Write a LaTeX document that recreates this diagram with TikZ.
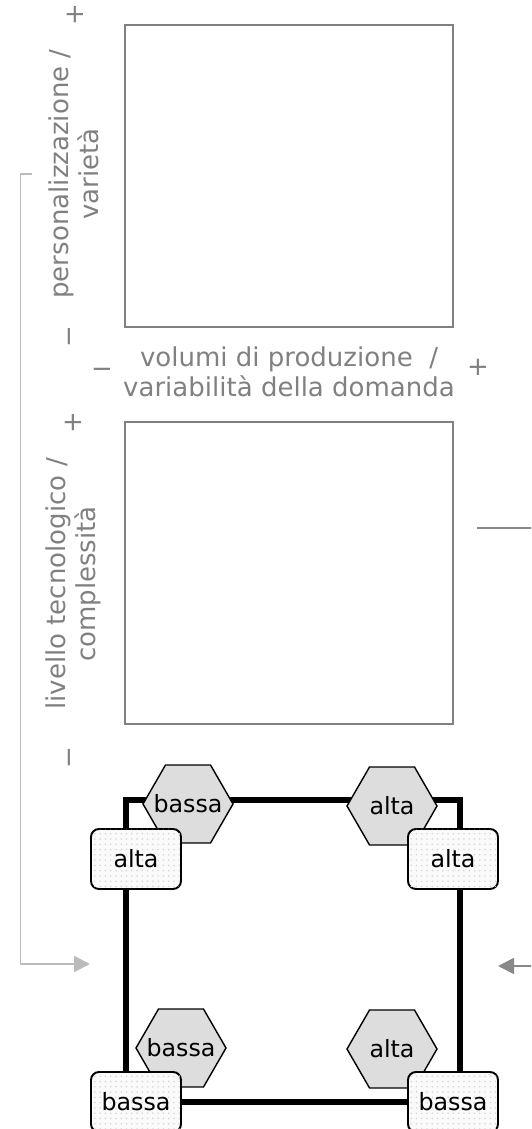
\documentclass[tikz,border=0pt]{standalone}
\usepackage{fontspec}
\setmainfont{DejaVu Sans}
\usetikzlibrary{shapes.geometric, arrows.meta, patterns}
\definecolor{axis_gray}{RGB}{128, 128, 128}
\definecolor{link_gray}{RGB}{187, 187, 187}
\definecolor{arrow_gray}{RGB}{136, 136, 136}
\definecolor{hex_gray}{RGB}{221, 221, 221}
\def \MENO {−}
\def \PIU {+}

\begin{document}
\begin{tikzpicture}[
    panel/.style={
        rectangle,
        draw=axis_gray,
        line width=1pt,
        minimum width=6.56cm,
        minimum height=6.04cm
    },
    axislabel/.style={
        text=axis_gray,
        align=center,
        inner sep=0pt,
        font=\fontsize{14.8}{17}\selectfont
    },
    level/.style={
        regular polygon,
        regular polygon sides=6,
        draw,
        line width=0.8pt,
        fill=hex_gray,
        minimum size=1.8cm,
        inner sep=0pt,
        label={[font=\fontsize{13.5}{15}\selectfont]center:#1}
    },
    grade/.style={
        rectangle,
        rounded corners=0.16cm,
        draw,
        line width=1.1pt,
        fill=black!2,
        postaction={pattern=dots, pattern color=black!16},
        minimum width=1.8cm,
        minimum height=1.2cm,
        font=\fontsize{13.5}{15}\selectfont
    },
    arrow/.style={
        -{Triangle[length=0.32cm, width=0.32cm]},
        line width=1.1pt, #1,
    }
]

\useasboundingbox (0,0) rectangle (10.62,22.58);
\clip (0,0) rectangle (10.62,22.58);

% Upper panels
\node[panel] (variety) at (5.78,19.06) {};
\node[panel] (techno) at (5.78,11.12) {};

% Axis labels
\node[axislabel, rotate=90] (varietylabel) at (1.48,19.10) {personalizzazione /\\varietà};
\node[axislabel] (volumelabel) at (5.78,15.14) {volumi di produzione\ \ /\\variabilità della domanda};
\node[axislabel, rotate=90] (technolabel) at (1.46,10.90) {livello tecnologico /\\complessità};

% Axis signs
\node[axislabel, rotate=90] (varietyplus) at (1.50,22.28) {\PIU};
\node[axislabel, rotate=90] (varietyminus) at (1.46,15.84) {\MENO};
\node[axislabel] (volumeminus) at (2.04,15.12) {\MENO};
\node[axislabel] (volumeplus) at (9.56,15.24) {\PIU};
\node[axislabel, rotate=90] (technoplus) at (1.46,14.12) {\PIU};
\node[axislabel, rotate=90] (technominus) at (1.46,7.42) {\MENO};

% Bottom frame
\node[draw, line width=3.7pt, minimum width=6.68cm, minimum height=6.04cm] (frame) at (5.86,3.56) {};

% Hexagon nodes
\node[level=bassa] (toplefthex) at (3.76,6.50) {};
\node[level=alta] (toprighthex) at (7.84,6.46) {};
\node[level=bassa] (bottomlefthex) at (3.62,1.62) {};
\node[level=alta] (bottomrighthex) at (7.84,1.60) {};

% Corner nodes
\node[grade] (topleft) at (2.72,5.40) {alta};
\node[grade] (topright) at (9.06,5.40) {alta};
\node[grade] (bottomleft) at (2.72,0.54) {bassa};
\node[grade] (bottomright) at (9.06,0.54) {bassa};

% Connectors
\coordinate (leftstart) at (0.64,19.10);
\coordinate (lefttip) at (1.80,3.30);
\coordinate (rightstart) at (9.54,12.02);
\coordinate (righttip) at (9.96,3.26);

\draw[arrow=link_gray] (leftstart) -- (0.41,19.10) |- (lefttip);
\draw[arrow=arrow_gray] (rightstart) -- (11.2,12.02) |- (righttip);

\end{tikzpicture}
\end{document}
